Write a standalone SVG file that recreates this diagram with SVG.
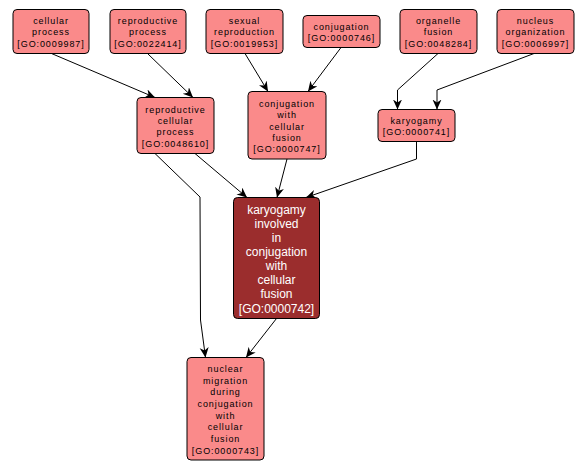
<svg xmlns="http://www.w3.org/2000/svg" width="587" height="470" viewBox="0 0 587 470">
<defs>
<marker id="arr" markerUnits="userSpaceOnUse" markerWidth="11" markerHeight="10" refX="10" refY="4.5" orient="auto">
<path d="M0,0 L10,4.5 L0,9 L3,4.5 z" fill="#000"/>
</marker>
<style>
.lt rect{fill:#FA8A8A;stroke:#000;stroke-width:1}
.dk rect{fill:#9B2D2D;stroke:#000;stroke-width:1}
.lt text{font-family:"Liberation Sans",Arial,sans-serif;font-size:9px;letter-spacing:0.9px;fill:#000;text-anchor:middle}
.dk text{font-family:"Liberation Sans",Arial,sans-serif;font-size:12px;fill:#fff;text-anchor:middle}
#edges path{fill:none;stroke:#000;stroke-width:1;marker-end:url(#arr)}
</style>
</defs>
<rect width="587" height="470" fill="#fff"/>
<g id="edges">
<path d="M51.5,53.5 L155,97.5"/>
<path d="M147.5,53.5 L193,97.5"/>
<path d="M245,53.5 L268,91.5"/>
<path d="M341,47.5 L308,91.5"/>
<path d="M438,53.5 L397.5,90 L397.5,109.5"/>
<path d="M534,53.5 L437,90 L437,109.5"/>
<path d="M416.5,141.5 L416.5,159 L306,197.5"/>
<path d="M195,153.5 L247,197.5"/>
<path d="M287,159 L277,197.5"/>
<path d="M155,153.5 L200,197 L200.5,320 L205.5,357.5"/>
<path d="M276.5,318.5 L246,357.5"/>
</g>
<g id="n_cellular" class="lt">
<rect x="13" y="9.5" width="76" height="44" rx="4"/>
<text x="51" y="24">cellular</text>
<text x="51" y="35.4">process</text>
<text x="51" y="46.8">[GO:0009987]</text>
</g>
<g id="n_repro" class="lt">
<rect x="110" y="9.5" width="76" height="44" rx="4"/>
<text x="148" y="24">reproductive</text>
<text x="148" y="35.4">process</text>
<text x="148" y="46.8">[GO:0022414]</text>
</g>
<g id="n_sexual" class="lt">
<rect x="206" y="9.5" width="77" height="44" rx="4"/>
<text x="244.5" y="24">sexual</text>
<text x="244.5" y="35.4">reproduction</text>
<text x="244.5" y="46.8">[GO:0019953]</text>
</g>
<g id="n_conj" class="lt">
<rect x="303" y="15.5" width="77" height="32" rx="4"/>
<text x="341.5" y="29.8">conjugation</text>
<text x="341.5" y="41.2">[GO:0000746]</text>
</g>
<g id="n_organelle" class="lt">
<rect x="400" y="9.5" width="77" height="44" rx="4"/>
<text x="438.5" y="24">organelle</text>
<text x="438.5" y="35.4">fusion</text>
<text x="438.5" y="46.8">[GO:0048284]</text>
</g>
<g id="n_nucleus" class="lt">
<rect x="497" y="9.5" width="77" height="44" rx="4"/>
<text x="535.5" y="24">nucleus</text>
<text x="535.5" y="35.4">organization</text>
<text x="535.5" y="46.8">[GO:0006997]</text>
</g>
<g id="n_karyogamy" class="lt">
<rect x="378" y="109.5" width="77" height="32" rx="4"/>
<text x="416.5" y="123.8">karyogamy</text>
<text x="416.5" y="135.2">[GO:0000741]</text>
</g>
<g id="n_rcp" class="lt">
<rect x="137" y="97.5" width="77" height="56" rx="4"/>
<text x="175.5" y="112.5">reproductive</text>
<text x="175.5" y="123.9">cellular</text>
<text x="175.5" y="135.3">process</text>
<text x="175.5" y="146.7">[GO:0048610]</text>
</g>
<g id="n_cwcf" class="lt">
<rect x="248" y="91.5" width="78" height="67.5" rx="4"/>
<text x="287" y="106.7">conjugation</text>
<text x="287" y="118.1">with</text>
<text x="287" y="129.5">cellular</text>
<text x="287" y="140.9">fusion</text>
<text x="287" y="152.3">[GO:0000747]</text>
</g>
<g id="n_kicwcf" class="dk">
<rect x="233.5" y="197.5" width="86" height="121" rx="4"/>
<text x="276.5" y="213.8">karyogamy</text>
<text x="276.5" y="227.9">involved</text>
<text x="276.5" y="242">in</text>
<text x="276.5" y="256.1">conjugation</text>
<text x="276.5" y="270.2">with</text>
<text x="276.5" y="284.3">cellular</text>
<text x="276.5" y="298.4">fusion</text>
<text x="276.5" y="312.5">[GO:0000742]</text>
</g>
<g id="n_nm" class="lt">
<rect x="187" y="357.5" width="77" height="102.5" rx="4"/>
<text x="225.5" y="372">nuclear</text>
<text x="225.5" y="383.65">migration</text>
<text x="225.5" y="395.3">during</text>
<text x="225.5" y="406.95">conjugation</text>
<text x="225.5" y="418.6">with</text>
<text x="225.5" y="430.25">cellular</text>
<text x="225.5" y="441.9">fusion</text>
<text x="225.5" y="453.55">[GO:0000743]</text>
</g>
</svg>
